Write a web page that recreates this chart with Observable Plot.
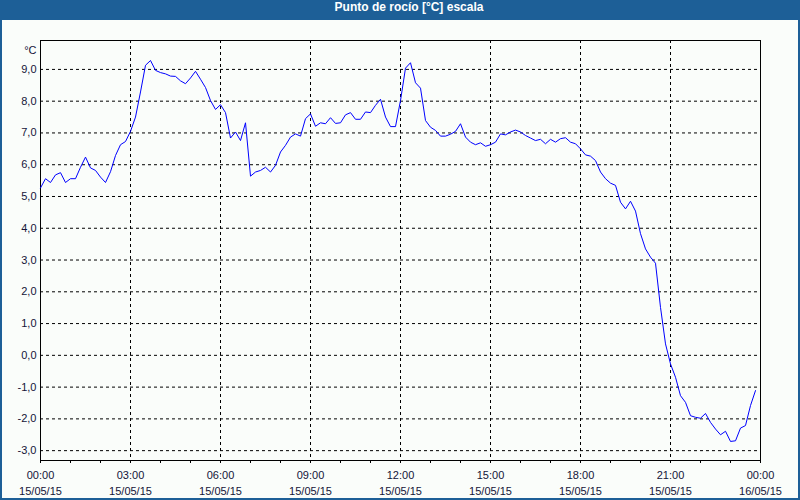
<!DOCTYPE html>
<html>
<head>
<meta charset="utf-8">
<script src="https://cdn.jsdelivr.net/npm/d3@7"></script>
<script src="https://cdn.jsdelivr.net/npm/@observablehq/plot@0.6"></script>
<style>
  html, body { margin: 0; padding: 0; background: #fafdfa; }
  #wrap { position: relative; width: 800px; height: 500px; overflow: hidden; background: #fafdfa; }
  #title { height: 20px; line-height: 20px; background: #1d5f97; color: #fff; font: bold 12px "Liberation Sans", Arial, sans-serif; text-align: center; padding-left: 18px; box-sizing: border-box; }
  #border { position: absolute; inset: 0; border: 2px solid #1d5f97; border-top: none; pointer-events: none; }
  svg { display: block; }
</style>
</head>
<body>
<div id="wrap">
  <div id="title">Punto de rocío [°C] escala</div>
  <div id="chart"></div>
  <div id="border"></div>
</div>
<script>
// Dew point readings every 10 minutes, 15/05/15 00:00 .. 23:50
const dewPoint = [
  5.27, 5.56, 5.44, 5.68, 5.75, 5.44, 5.56, 5.56, 5.92, 6.24,
  5.90, 5.82, 5.61, 5.44, 5.78, 6.29, 6.63, 6.73, 7.05, 7.50,
  8.29, 9.13, 9.28, 8.97, 8.90, 8.86, 8.79, 8.78, 8.64, 8.55,
  8.73, 8.94, 8.69, 8.43, 8.02, 7.74, 7.89, 7.64, 6.84, 7.03,
  6.76, 7.32, 5.64, 5.77, 5.82, 5.92, 5.77, 5.98, 6.40, 6.61,
  6.87, 6.97, 6.90, 7.45, 7.60, 7.21, 7.32, 7.29, 7.48, 7.30,
  7.32, 7.57, 7.64, 7.43, 7.43, 7.66, 7.64, 7.87, 8.06, 7.50,
  7.20, 7.20, 8.02, 9.04, 9.21, 8.58, 8.41, 7.39, 7.18, 7.08,
  6.90, 6.90, 6.96, 7.05, 7.29, 6.87, 6.71, 6.63, 6.69, 6.58,
  6.63, 6.71, 6.97, 6.94, 7.03, 7.09, 7.03, 6.92, 6.84, 6.76,
  6.80, 6.66, 6.80, 6.71, 6.82, 6.85, 6.71, 6.66, 6.50, 6.31,
  6.27, 6.13, 5.77, 5.56, 5.42, 5.35, 4.82, 4.61, 4.85, 4.54,
  3.83, 3.35, 3.09, 2.90, 1.51, 0.36, -0.27, -0.69, -1.27, -1.48,
  -1.90, -1.95, -1.98, -1.83, -2.11, -2.32, -2.50, -2.39, -2.71, -2.69,
  -2.29, -2.21, -1.58, -1.11
];
const startTime = Date.UTC(2015, 4, 15, 0, 0);
const endTime = Date.UTC(2015, 4, 16, 0, 0);
const stepMinutes = 10;
const yTicks = [-3, -2, -1, 0, 1, 2, 3, 4, 5, 6, 7, 8, 9];
const yDomain = [-3.31, 9.91];
const unitLabel = "°C";

const rows = dewPoint.map((v, i) => ({ t: new Date(startTime + i * stepMinutes * 60000), v }));
const hourTicks = d3.utcHour.range(new Date(startTime), new Date(endTime + 1));
const labelTicks = d3.utcHour.every(3).range(new Date(startTime), new Date(endTime + 1));
const gridTicks = labelTicks.slice(1, -1);

const fmtTime = d3.utcFormat("%H:%M");
const fmtDate = d3.utcFormat("%d/%m/%y");

const chart = Plot.plot({
  width: 800,
  height: 480,
  marginTop: 20,
  marginBottom: 40,
  marginLeft: 40,
  marginRight: 40,
  style: { fontFamily: "Liberation Sans, Arial, sans-serif", fontSize: "11px", color: "#141438", background: "transparent" },
  x: { type: "utc", domain: [new Date(startTime), new Date(endTime)] },
  y: { domain: yDomain },
  marks: [
    Plot.gridY(yTicks, { stroke: "#000", strokeOpacity: 1, strokeDasharray: "3,3" }),
    Plot.gridX(gridTicks, { stroke: "#000", strokeOpacity: 1, strokeDasharray: "3,3" }),
    Plot.frame({ stroke: "#000" }),
    Plot.axisY({ ticks: yTicks, tickSize: 0, tickPadding: 4, label: null, tickFormat: d => d.toFixed(1).replace(".", ",") }),
    Plot.axisX({ ticks: hourTicks, tickSize: 3, tickFormat: () => "", label: null, stroke: "#000" }),
    Plot.axisX({ ticks: labelTicks, tickSize: 0, tickPadding: 7, label: null, lineHeight: 1.45,
      tickFormat: d => fmtTime(d) + "\n" + fmtDate(d) }),
    Plot.text([unitLabel], { frameAnchor: "top-left", dx: -4, dy: 6, textAnchor: "end", fill: "#141438" }),
    Plot.lineY(rows, { x: "t", y: "v", stroke: "#0000ff", strokeWidth: 1 })
  ]
});
document.getElementById("chart").appendChild(chart);
</script>
</body>
</html>
